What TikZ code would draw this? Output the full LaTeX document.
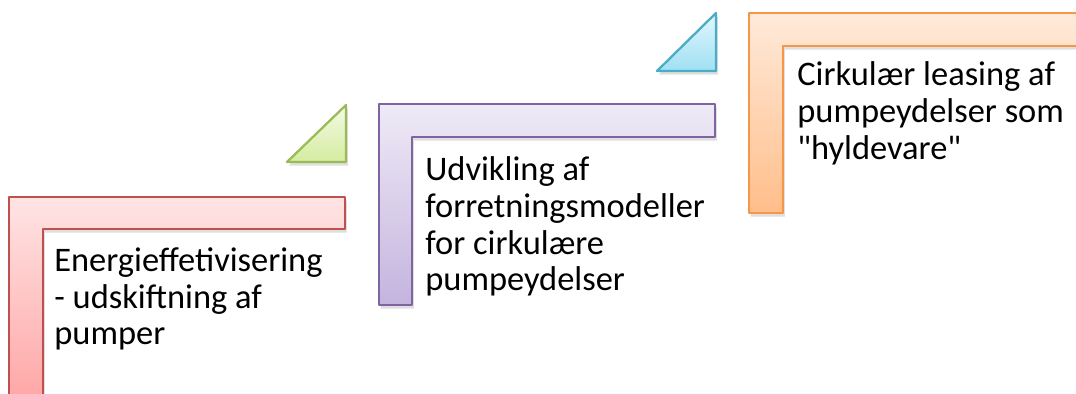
\documentclass[tikz,border=0pt]{standalone}
\usepackage{fontspec}
\setmainfont{Carlito}
\usetikzlibrary{shadows}

\begin{document}
\begin{tikzpicture}[x=0.02cm, y=-0.02cm, line join=round,
  corner/.style={line width=1.3pt, drop shadow={opacity=0.25, shadow xshift=1pt, shadow yshift=-2pt}},
  stepnote/.style={triangle, line width=1.3pt},
  steptext/.style={anchor=north west, align=left, inner sep=0pt, font=\fontsize{19.6}{21}\selectfont},
  triangle/.style={drop shadow={opacity=0.25, shadow xshift=1pt, shadow yshift=-2pt}}]
\useasboundingbox (0,0) rectangle (1076,394);
\clip (0,0) rectangle (1076,394);

% red step
\draw [corner, draw={rgb,255:red,192;green,80;blue,77}, top color={rgb,255:red,255;green,228;blue,228}, bottom color={rgb,255:red,255;green,160;blue,160}]
  (9,197) -- (345,197) -- (345,229) -- (43,229) -- (43,420) -- (9,420) -- cycle;
% purple step
\draw [corner, draw={rgb,255:red,128;green,100;blue,162}, top color={rgb,255:red,238;green,234;blue,246}, bottom color={rgb,255:red,196;green,180;blue,222}]
  (379,104) -- (715,104) -- (715,137) -- (412,137) -- (412,305) -- (379,305) -- cycle;
% orange step
\draw [corner, draw={rgb,255:red,247;green,150;blue,70}, top color={rgb,255:red,255;green,234;blue,218}, bottom color={rgb,255:red,255;green,190;blue,138}]
  (749,13) -- (1100,13) -- (1100,46) -- (783,46) -- (783,213) -- (749,213) -- cycle;

% arrows between steps
\draw [stepnote, draw={rgb,255:red,155;green,187;blue,89}, top color={rgb,255:red,244;green,250;blue,230}, bottom color={rgb,255:red,212;green,236;blue,160}]
  (287,162) -- (346,105) -- (346,162) -- cycle;
\draw [stepnote, draw={rgb,255:red,75;green,172;blue,198}, top color={rgb,255:red,226;green,247;blue,252}, bottom color={rgb,255:red,160;green,224;blue,244}]
  (657,71) -- (716,13) -- (716,71) -- cycle;

\node [steptext] (energi) at (54,247) {Energieffetivisering\\- udskiftning af\\pumper};
\node [steptext] (udvikling) at (425,156) {Udvikling af\\forretningsmodeller\\for cirkulære\\pumpeydelser};
\node [steptext] (leasing) at (797,61) {Cirkulær leasing af\\pumpeydelser som\\\textquotedbl hyldevare\textquotedbl};

\end{tikzpicture}
\end{document}
